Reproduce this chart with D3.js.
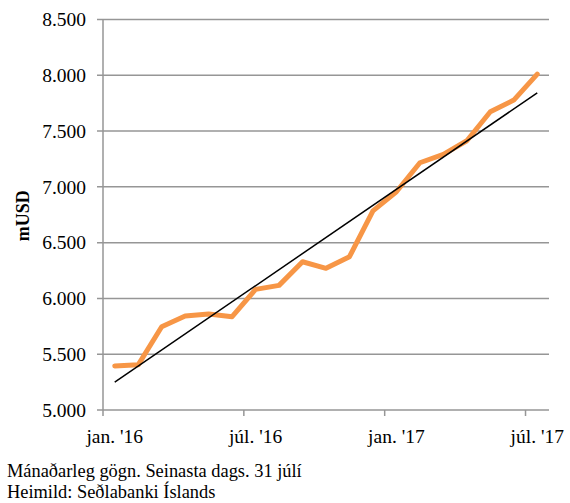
<!DOCTYPE html>
<html>
<head>
<meta charset="utf-8">
<script src="https://cdn.jsdelivr.net/npm/d3@7"></script>
<style>
  body { margin: 0; background: #fff; }
  svg text { font-family: "Liberation Serif", "DejaVu Serif", serif; fill: #000; }
</style>
</head>
<body>
<svg id="chart" width="570" height="503"></svg>
<script>
// monthly data, jan 2016 - jul 2017
var months = ["2016-01","2016-02","2016-03","2016-04","2016-05","2016-06","2016-07","2016-08","2016-09","2016-10",
  "2016-11","2016-12","2017-01","2017-02","2017-03","2017-04","2017-05","2017-06","2017-07"];
var values = [5395, 5405, 5746, 5842, 5860, 5836, 6081, 6117, 6329, 6270,
  6374, 6785, 6956, 7216, 7291, 7413, 7673, 7778, 8011];
var yTicks = [5000, 5500, 6000, 6500, 7000, 7500, 8000, 8500];
var xTickMonths = ["2016-01", "2016-07", "2017-01", "2017-07"];
var xTickLabels = ["jan. '16", "júl. '16", "jan. '17", "júl. '17"];
var footnotes = ["Mánaðarleg gögn. Seinasta dags. 31 júlí", "Heimild: Seðlabanki Íslands"];

var margin = {top: 19.5, left: 103, right: 21, bottom: 93},
  width = 570 - margin.left - margin.right,
  height = 503 - margin.top - margin.bottom;

var svg = d3.select("#chart");
var g = svg.append("g")
  .attr("transform", "translate(" + margin.left + "," + margin.top + ")");

var x = d3.scaleBand().domain(months).range([0, width]),
    y = d3.scaleLinear().domain([5000, 8500]).range([height, 0]);

var fmt = function(d) { return d3.format(",")(d).replace(",", "."); };

// gridlines
g.selectAll(".grid")
    .data(yTicks)
  .enter().append("line")
    .attr("class", "grid")
    .attr("x1", -6).attr("x2", width)
    .attr("y1", function(d) { return y(d); })
    .attr("y2", function(d) { return y(d); })
    .style("stroke", "#969696")
    .style("stroke-width", 1.5);

// y axis line
g.append("line")
  .attr("x1", 0).attr("x2", 0)
  .attr("y1", 0).attr("y2", height)
  .style("stroke", "#969696")
  .style("stroke-width", 1.5);

// y labels
g.selectAll(".ylab")
    .data(yTicks)
  .enter().append("text")
    .attr("class", "ylab")
    .attr("x", -17)
    .attr("y", function(d) { return y(d); })
    .attr("dy", "0.35em")
    .attr("text-anchor", "end")
    .style("font-size", "19.5px")
    .text(fmt);

// x ticks at start of band
g.selectAll(".xtick")
    .data(xTickMonths)
  .enter().append("line")
    .attr("class", "xtick")
    .attr("x1", function(d) { return x(d); })
    .attr("x2", function(d) { return x(d); })
    .attr("y1", height).attr("y2", height + 6)
    .style("stroke", "#969696")
    .style("stroke-width", 1.5);

g.selectAll(".xlab")
    .data(xTickMonths)
  .enter().append("text")
    .attr("class", "xlab")
    .attr("x", function(d) { return x(d) + x.bandwidth() / 2; })
    .attr("y", height + 33)
    .attr("text-anchor", "middle")
    .style("font-size", "19.5px")
    .text(function(d, i) { return xTickLabels[i]; });

// y title
svg.append("text")
  .attr("transform", "translate(29," + (margin.top + y(6740)) + ") rotate(-90)")
  .attr("text-anchor", "middle")
  .style("font-size", "18px")
  .style("font-weight", "bold")
  .text("mUSD");

// linear trend
var n = values.length,
  mx = d3.mean(values, function(d, i) { return i; }),
  my = d3.mean(values),
  sxy = d3.sum(values, function(d, i) { return (i - mx) * (d - my); }),
  sxx = d3.sum(values, function(d, i) { return (i - mx) * (i - mx); }),
  slope = sxy / sxx,
  icpt = my - slope * mx;

var cx = function(i) { return x(months[i]) + x.bandwidth() / 2; };

var line = d3.line()
  .x(function(d, i) { return cx(i); })
  .y(function(d) { return y(d); });

g.append("path")
  .datum(values)
  .attr("d", line)
  .style("fill", "none")
  .style("stroke", "#F79646")
  .style("stroke-width", 5)
  .style("stroke-linejoin", "round")
  .style("stroke-linecap", "round");

g.append("line")
  .attr("x1", cx(0)).attr("y1", y(icpt))
  .attr("x2", cx(n - 1)).attr("y2", y(icpt + slope * (n - 1)))
  .style("stroke", "#000")
  .style("stroke-width", 1.5);

// footnotes
svg.selectAll(".foot")
    .data(footnotes)
  .enter().append("text")
    .attr("class", "foot")
    .attr("x", 7)
    .attr("y", function(d, i) { return 477 + i * 21; })
    .style("font-size", "18.4px")
    .text(function(d) { return d; });
</script>
</body>
</html>
